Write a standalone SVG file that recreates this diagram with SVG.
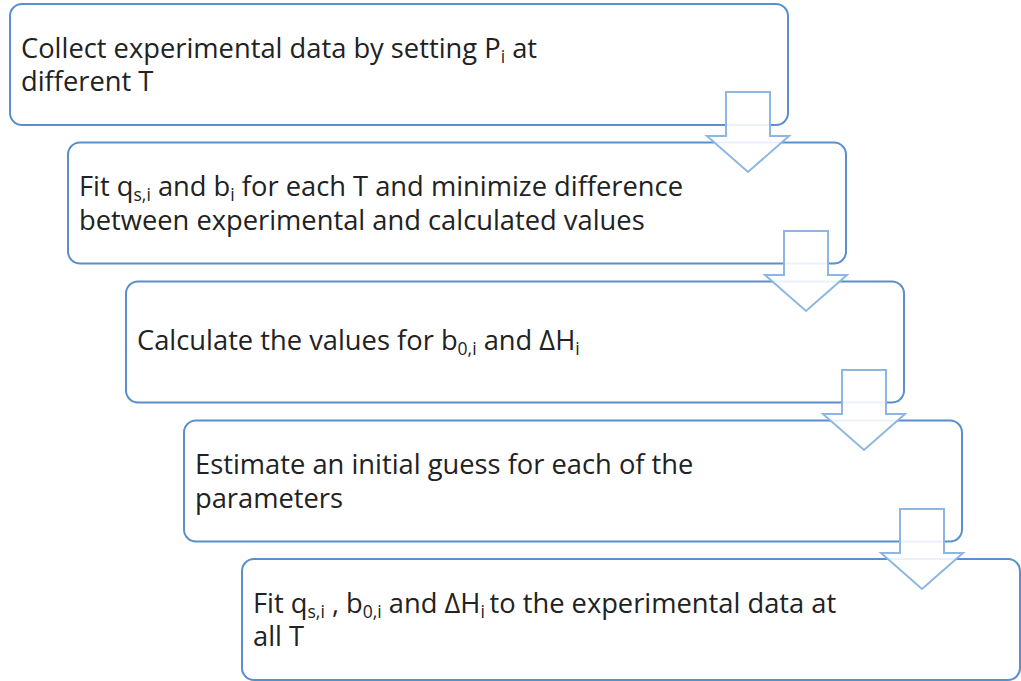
<svg xmlns="http://www.w3.org/2000/svg" width="1021" height="681" viewBox="0 0 1021 681">
<style>
.box{fill:#ffffff;stroke:#5b8fcb;stroke-width:2}
.arr{fill:#ffffff;fill-opacity:0.88;stroke:#8db7e2;stroke-width:2;stroke-linejoin:miter}
.t{font-family:"Open Sans","Noto Sans","Liberation Sans",sans-serif;font-size:27.3px;fill:#222222}
.s{font-size:17.5px}
</style>
<rect width="1021" height="681" fill="#ffffff"/>
<g id="node1">
<rect class="box" x="10" y="4" width="778" height="121" rx="12"/>
<text class="t" x="21" y="58">Collect experimental data by setting P<tspan class="s" dy="5">i</tspan><tspan dy="-5"> at</tspan></text>
<text class="t" x="21" y="91">different T</text>
</g>
<g id="node2">
<rect class="box" x="68" y="142.5" width="778" height="121" rx="12"/>
<text class="t" x="79" y="196">Fit q<tspan class="s" dy="5">s,i</tspan><tspan dy="-5"> and b</tspan><tspan class="s" dy="5">i</tspan><tspan dy="-5"> for each T and minimize difference</tspan></text>
<text class="t" x="79" y="230">between experimental and calculated values</text>
</g>
<g id="node3">
<rect class="box" x="126" y="281.5" width="778" height="121" rx="12"/>
<text class="t" x="137" y="350">Calculate the values for b<tspan class="s" dy="5">0,i</tspan><tspan dy="-5"> and ΔH</tspan><tspan class="s" dy="5">i</tspan></text>
</g>
<g id="node4">
<rect class="box" x="184" y="420.5" width="778" height="121" rx="12"/>
<text class="t" x="195" y="474">Estimate an initial guess for each of the</text>
<text class="t" x="195" y="508">parameters</text>
</g>
<g id="node5">
<rect class="box" x="242" y="559" width="778" height="121" rx="12"/>
<text class="t" x="253" y="613">Fit q<tspan class="s" dy="5">s,i</tspan><tspan dy="-5"> , b</tspan><tspan class="s" dy="5">0,i</tspan><tspan dy="-5"> and ΔH</tspan><tspan class="s" dy="5">i </tspan><tspan dy="-5">to the experimental data at</tspan></text>
<text class="t" x="253" y="646">all T</text>
</g>
<g id="connectors">
<path id="arrow1" class="arr" d="M726,92 H770 V136 H789 L748,172 L707,136 H726 Z"/>
<path id="arrow2" class="arr" transform="translate(58,139)" d="M726,92 H770 V136 H789 L748,172 L707,136 H726 Z"/>
<path id="arrow3" class="arr" transform="translate(116,278)" d="M726,92 H770 V136 H789 L748,172 L707,136 H726 Z"/>
<path id="arrow4" class="arr" transform="translate(174,417)" d="M726,92 H770 V136 H789 L748,172 L707,136 H726 Z"/>
</g>
</svg>
